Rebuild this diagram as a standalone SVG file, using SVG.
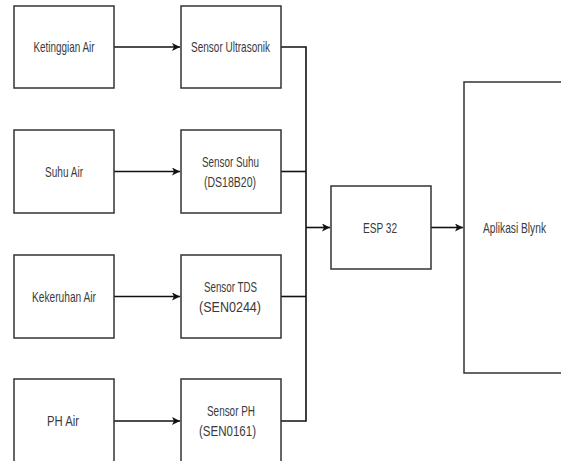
<svg xmlns="http://www.w3.org/2000/svg" width="561" height="461" viewBox="0 0 561 461">
<style>
.box{fill:#fff;stroke:#333;stroke-width:1.5}
.t{font-family:"Liberation Sans",Arial,sans-serif;font-size:15px;fill:#3a3a3a;text-anchor:middle}
.c{fill:none;stroke:#111;stroke-width:1.6}
</style>
<defs>
<marker id="ah" viewBox="0 0 10 10" refX="10" refY="5" markerWidth="8" markerHeight="8" markerUnits="userSpaceOnUse" orient="auto">
<path d="M0,0 L10,5 L0,10 L2.5,5 z" fill="#111"/>
</marker>
</defs>
<rect width="561" height="461" fill="#fff"/>
<g id="connectors">
<line class="c" x1="114" y1="47" x2="180" y2="47" marker-end="url(#ah)"/>
<line class="c" x1="114" y1="171.5" x2="180" y2="171.5" marker-end="url(#ah)"/>
<line class="c" x1="114" y1="296.5" x2="180" y2="296.5" marker-end="url(#ah)"/>
<line class="c" x1="114" y1="421" x2="180" y2="421" marker-end="url(#ah)"/>
<polyline class="c" points="281,47 306,47 306,421 281,421"/>
<line class="c" x1="281" y1="171.5" x2="306" y2="171.5"/>
<line class="c" x1="281" y1="296.5" x2="306" y2="296.5"/>
<line class="c" x1="306" y1="227.5" x2="330" y2="227.5" marker-end="url(#ah)"/>
<line class="c" x1="431" y1="227.5" x2="463" y2="227.5" marker-end="url(#ah)"/>
</g>
<g id="ketinggian-air"><rect class="box" x="14" y="6" width="100" height="82"/><text class="t" x="64" y="52" textLength="61" lengthAdjust="spacingAndGlyphs">Ketinggian Air</text></g>
<g id="suhu-air"><rect class="box" x="14" y="130" width="100" height="83"/><text class="t" x="64" y="177" textLength="38" lengthAdjust="spacingAndGlyphs">Suhu Air</text></g>
<g id="kekeruhan-air"><rect class="box" x="14" y="255" width="100" height="83"/><text class="t" x="64" y="302" textLength="64" lengthAdjust="spacingAndGlyphs">Kekeruhan Air</text></g>
<g id="ph-air"><rect class="box" x="14" y="379" width="100" height="84"/><text class="t" x="63" y="426" textLength="32" lengthAdjust="spacingAndGlyphs">PH Air</text></g>
<g id="sensor-ultrasonik"><rect class="box" x="181" y="6" width="100" height="82"/><text class="t" x="230.5" y="52" textLength="79" lengthAdjust="spacingAndGlyphs">Sensor Ultrasonik</text></g>
<g id="sensor-suhu"><rect class="box" x="181" y="130" width="100" height="83"/><text class="t" x="230.5" y="167" textLength="57" lengthAdjust="spacingAndGlyphs">Sensor Suhu</text><text class="t" x="230" y="187" textLength="52" lengthAdjust="spacingAndGlyphs">(DS18B20)</text></g>
<g id="sensor-tds"><rect class="box" x="181" y="255" width="100" height="83"/><text class="t" x="230.5" y="292" textLength="53" lengthAdjust="spacingAndGlyphs">Sensor TDS</text><text class="t" x="230" y="312" textLength="62" lengthAdjust="spacingAndGlyphs">(SEN0244)</text></g>
<g id="sensor-ph"><rect class="box" x="181" y="379" width="100" height="84"/><text class="t" x="231" y="416" textLength="48" lengthAdjust="spacingAndGlyphs">Sensor PH</text><text class="t" x="227.5" y="436" textLength="57" lengthAdjust="spacingAndGlyphs">(SEN0161)</text></g>
<g id="esp32"><rect class="box" x="331" y="186" width="100" height="83"/><text class="t" x="380" y="233" textLength="34" lengthAdjust="spacingAndGlyphs">ESP 32</text></g>
<g id="aplikasi-blynk"><rect class="box" x="464" y="82" width="98" height="291"/><text class="t" x="514.5" y="233" textLength="63" lengthAdjust="spacingAndGlyphs">Aplikasi Blynk</text></g>
</svg>
